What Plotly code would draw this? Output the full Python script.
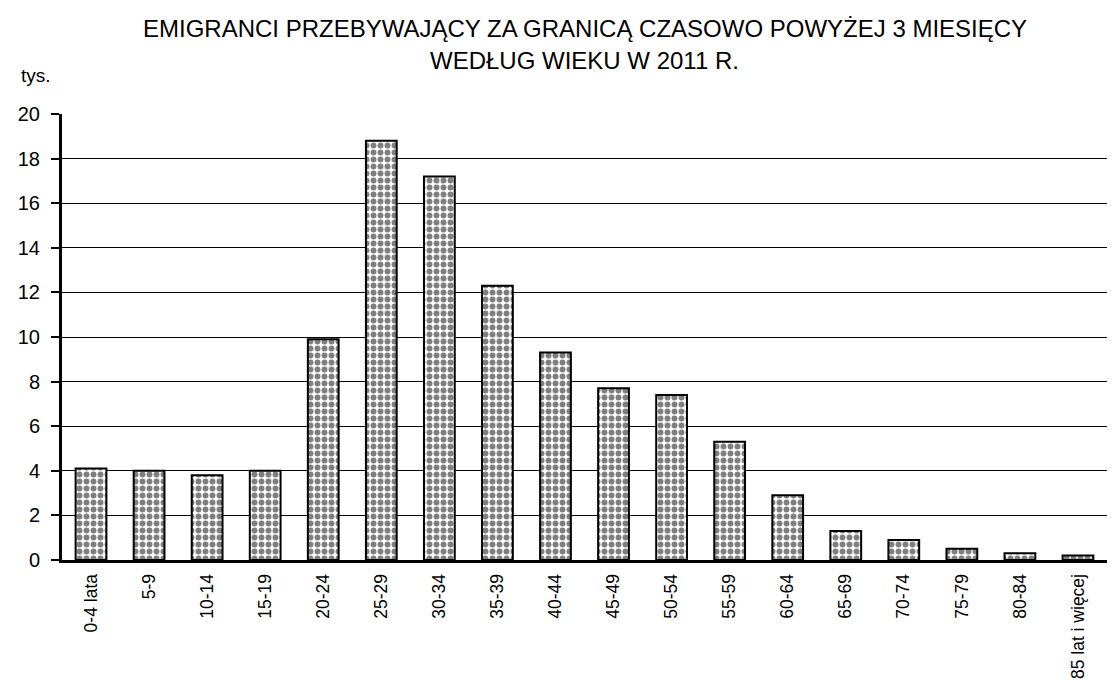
import plotly.graph_objects as go

categories = ["0-4 lata", "5-9", "10-14", "15-19", "20-24", "25-29", "30-34", "35-39",
              "40-44", "45-49", "50-54", "55-59", "60-64", "65-69", "70-74", "75-79",
              "80-84", "85 lat i więcej"]
values = [4.1, 4.0, 3.8, 4.0, 9.9, 18.8, 17.2, 12.3, 9.3, 7.7, 7.4, 5.3, 2.9, 1.3, 0.9, 0.5, 0.3, 0.2]
y_ticks = [0, 2, 4, 6, 8, 10, 12, 14, 16, 18, 20]
title_lines = ["EMIGRANCI PRZEBYWAJĄCY ZA GRANICĄ CZASOWO POWYŻEJ 3 MIESIĘCY",
               "WEDŁUG WIEKU W 2011 R."]

FONT = "Liberation Sans, Arial, sans-serif"

fig = go.Figure(go.Bar(
    x=categories, y=values,
    marker=dict(color="white",
                line=dict(color="black", width=2),
                pattern=dict(shape=".", fgcolor="black", bgcolor="white", size=7, solidity=0.55)),
))

fig.update_layout(
    width=1115, height=690,
    margin=dict(l=54, r=16, t=106, b=138),
    paper_bgcolor="white", plot_bgcolor="white",
    font=dict(family=FONT, color="black", size=18),
    bargap=0.47,
    showlegend=False,
)
# title lines positioned in paper coords relative to plot area (plot area: y 114..560 px)
for line, py in zip(title_lines, [28, 60]):
    fig.add_annotation(text=line, xref="paper", yref="paper", x=0.5,
                       y=(560 - py) / 446, xanchor="center", yanchor="middle",
                       showarrow=False, font=dict(size=24))
fig.add_annotation(text="tys.", xref="paper", yref="paper", x=-26 / 1045, y=(560 - 75) / 446,
                   xanchor="center", yanchor="middle", showarrow=False, font=dict(size=19))

fig.update_xaxes(showline=True, linecolor="black", linewidth=3, tickangle=-90,
                 ticks="", showgrid=False, tickfont=dict(size=17.5), automargin=False,
                 ticklabelstandoff=4)
fig.update_yaxes(range=[0, 20], tickvals=y_ticks, showline=True, linecolor="black", linewidth=3,
                 ticks="outside", ticklen=8, tickcolor="black", tickwidth=2,
                 showgrid=True, gridcolor="black", gridwidth=1, zeroline=False,
                 tickfont=dict(size=20), automargin=False, ticklabelstandoff=7)

fig.write_html("out.html")
